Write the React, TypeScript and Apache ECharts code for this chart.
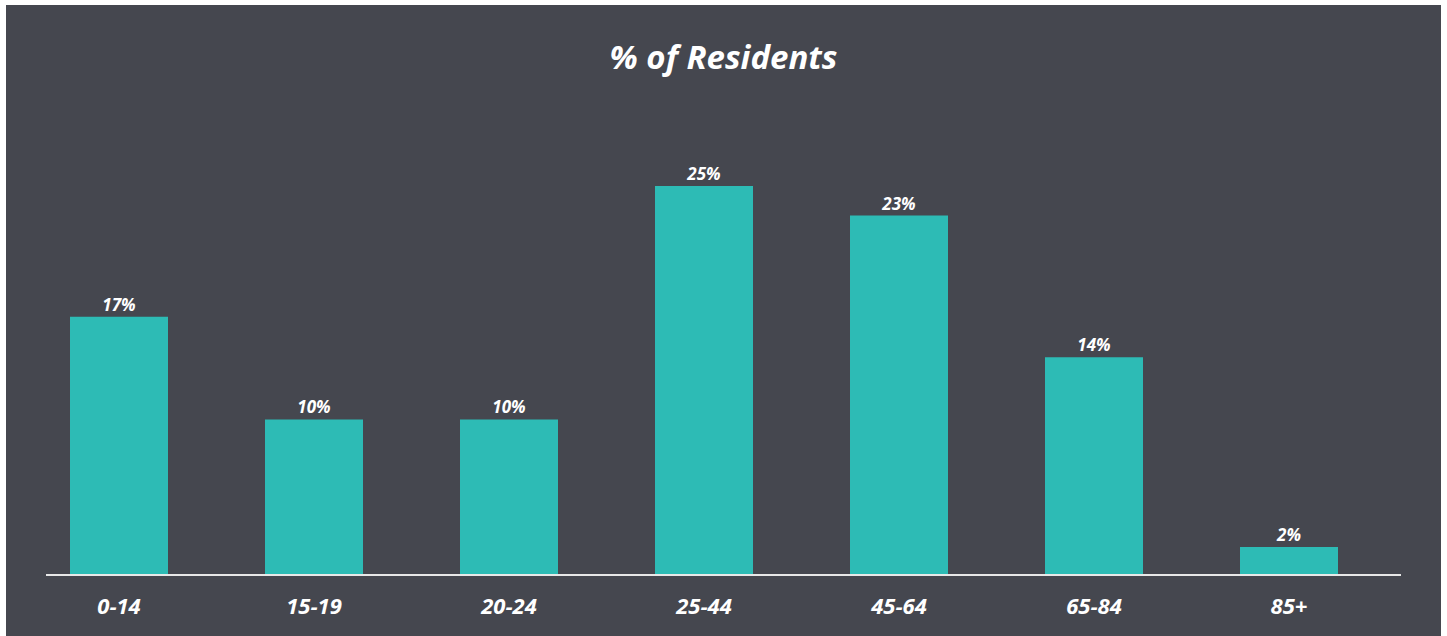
import React, { useEffect, useRef } from "react";
import * as echarts from "echarts";

const categories = ["0-14", "15-19", "20-24", "25-44", "45-64", "65-84", "85+"];
const residentsPct = [16.6, 10.0, 10.0, 25.0, 23.1, 14.0, 1.8];
const titleText = "% of Residents";

const FONT = "'Open Sans', 'DejaVu Sans', sans-serif";

export default function App() {
  const ref = useRef<HTMLDivElement>(null);
  useEffect(() => {
    if (!ref.current) return;
    const chart = echarts.init(ref.current, undefined, { renderer: "svg" });
    chart.setOption({
      animation: false,
      backgroundColor: "#ffffff",
      title: {
        text: titleText,
        left: "center",
        top: 35,
        textStyle: {
          color: "#ffffff",
          fontFamily: FONT,
          fontWeight: "bold",
          fontStyle: "italic",
          fontSize: 33,
        },
      },
      graphic: [
        {
          type: "rect",
          z: -10,
          silent: true,
          shape: { x: 6, y: 5, width: 1435, height: 631 },
          style: { fill: "#45474f" },
        },
        {
          type: "line",
          z: 100,
          silent: true,
          shape: { x1: 46, y1: 575, x2: 1401, y2: 575 },
          style: { stroke: "#e8e8e8", lineWidth: 2 },
        },
      ],
      grid: { left: 21.5, width: 1365, top: 186, height: 389 },
      xAxis: {
        type: "category",
        data: categories,
        axisLine: { show: false },
        axisTick: { show: false },
        axisLabel: {
          color: "#ffffff",
          fontFamily: FONT,
          fontWeight: "bold",
          fontStyle: "italic",
          fontSize: 22,
          margin: 19,
        },
      },
      yAxis: {
        type: "value",
        min: 0,
        max: 25,
        show: false,
        splitLine: { show: false },
      },
      series: [
        {
          type: "bar",
          data: residentsPct,
          barWidth: 98,
          itemStyle: { color: "#2dbbb5" },
          label: {
            show: true,
            position: "top",
            distance: 4,
            color: "#ffffff",
            fontFamily: FONT,
            fontWeight: "bold",
            fontStyle: "italic",
            fontSize: 17,
            formatter: (p: any) => Math.round(p.value) + "%",
          },
        },
      ],
    });
    return () => chart.dispose();
  }, []);
  return (
    <div
      ref={ref}
      style={{ position: "fixed", left: 0, top: 0, width: 1447, height: 636 }}
    />
  );
}
